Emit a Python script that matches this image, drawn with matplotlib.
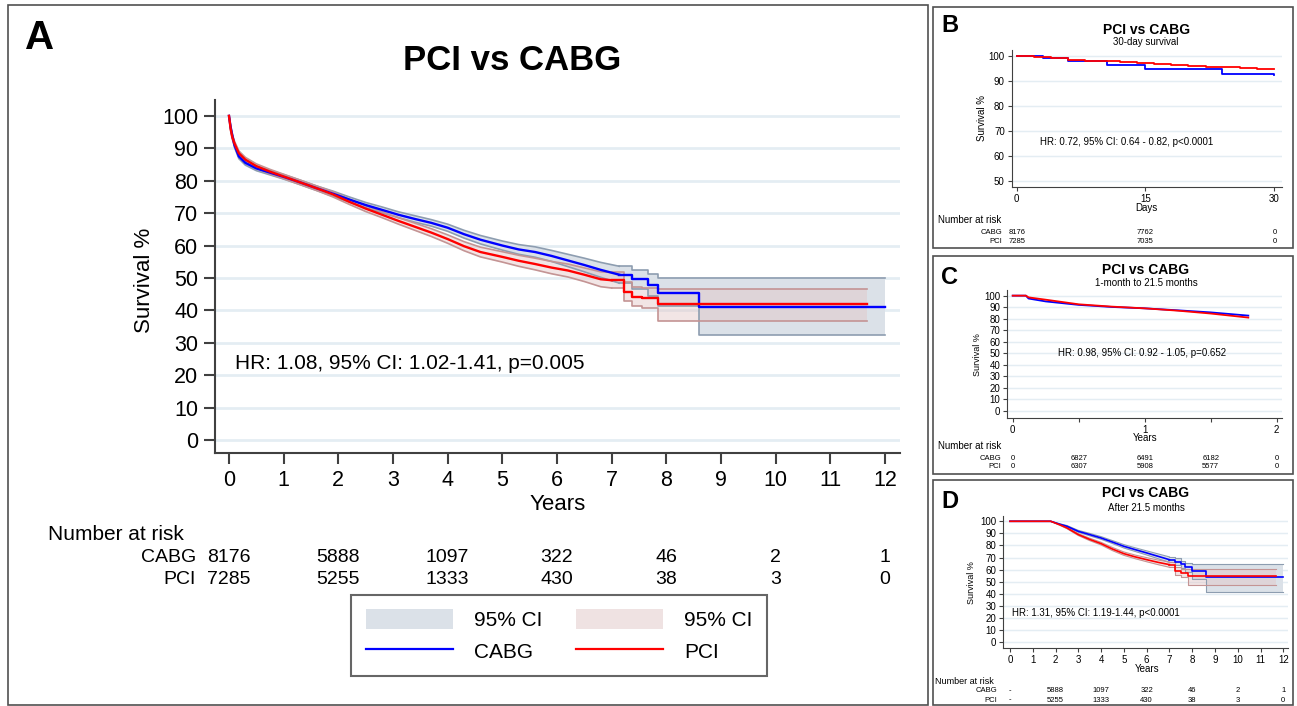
import matplotlib
matplotlib.use('Agg')
import matplotlib.pyplot as plt
from matplotlib.patches import Rectangle, Patch
from matplotlib.lines import Line2D
from matplotlib.transforms import blended_transform_factory

plt.rcParams['font.family'] = ['Liberation Sans', 'DejaVu Sans']

# ---- panel A: whole follow-up ----
a_cabg_t = [0, 0.03, 0.06, 0.1, 0.18, 0.3, 0.5, 0.75, 1.0, 1.3, 1.6, 1.9, 2.2, 2.5, 2.8, 3.1, 3.4, 3.7,
            4.0, 4.3, 4.6, 5.0, 5.3, 5.6, 5.9, 6.2, 6.5, 6.8, 7.14, 7.38, 7.66, 7.84, 8.59, 12.0]
a_cabg_s = [100, 96.5, 94, 91, 87.5, 85.5, 83.8, 82.5, 81.2, 79.5, 77.7, 76, 74.2, 72.5, 71, 69.5, 68.2, 67,
            65.5, 63.5, 61.8, 60, 58.8, 58, 56.8, 55.4, 54, 52.5, 51, 49.6, 47.8, 45.4, 41.1, 41.1]
a_cabg_hi = [100, 97.0, 94.6, 91.7, 88.2, 86.2, 84.5, 83.2, 81.9, 80.2, 78.4, 76.8, 75.0, 73.3, 71.9, 70.4, 69.2, 68.0,
             66.6, 64.7, 63.1, 61.4, 60.3, 59.6, 58.5, 57.3, 56.1, 54.8, 53.6, 52.5, 51.2, 50.0, 50.0, 50.0]
a_cabg_lo = [100, 96.0, 93.4, 90.3, 86.8, 84.8, 83.1, 81.8, 80.5, 78.8, 77.0, 75.2, 73.4, 71.7, 70.1, 68.6, 67.2, 66.0,
             64.4, 62.3, 60.5, 58.6, 57.3, 56.4, 55.1, 53.5, 51.9, 50.2, 48.4, 46.7, 44.4, 41.5, 32.4, 32.4]

a_pci_t = [0, 0.03, 0.06, 0.1, 0.18, 0.3, 0.5, 0.75, 1.0, 1.3, 1.6, 1.9, 2.2, 2.5, 2.8, 3.1, 3.4, 3.7,
           4.0, 4.3, 4.6, 5.0, 5.3, 5.6, 5.9, 6.2, 6.5, 6.8, 7.0, 7.23, 7.38, 7.56, 7.84, 11.68]
a_pci_s = [100, 96, 93.5, 91.5, 88.5, 86.5, 84.5, 82.8, 81.3, 79.5, 77.7, 75.8, 73.5, 71.4, 69.5, 67.6, 65.8, 64,
           62, 59.8, 58, 56.5, 55.3, 54.3, 53.2, 52.3, 51, 49.6, 49.3, 45.8, 44.2, 43.8, 42, 42]
a_pci_hi = [100, 96.6, 94.2, 92.2, 89.2, 87.2, 85.2, 83.5, 82.0, 80.2, 78.4, 76.6, 74.3, 72.3, 70.4, 68.6, 66.9, 65.2,
            63.3, 61.2, 59.5, 58.1, 57.0, 56.1, 55.1, 54.3, 53.1, 51.9, 51.7, 48.6, 47.2, 47.0, 46.6, 46.6]
a_pci_lo = [100, 95.4, 92.8, 90.8, 87.8, 85.8, 83.8, 82.1, 80.6, 78.8, 77.0, 75.0, 72.7, 70.5, 68.6, 66.6, 64.7, 62.8,
            60.7, 58.4, 56.5, 54.9, 53.6, 52.5, 51.3, 50.3, 48.9, 47.3, 46.9, 43.0, 41.2, 40.6, 36.8, 36.8]

a_risk_x = [0, 2, 4, 6, 8, 10, 12]
a_risk_cabg = ['8176', '5888', '1097', '322', '46', '2', '1']
a_risk_pci = ['7285', '5255', '1333', '430', '38', '3', '0']

# ---- panel B: 30 days ----
b_cabg_t = [0, 3.1, 6.0, 10.5, 15.0, 23.9, 30]
b_cabg_s = [100, 99.2, 97.8, 96.2, 94.8, 92.5, 92.3]
b_pci_t = [0, 2, 4, 6, 8, 10, 12, 14, 16, 18, 20, 22, 24, 26, 28, 30]
b_pci_s = [100, 99.3, 98.9, 98.4, 98.0, 97.7, 97.4, 97.0, 96.6, 96.2, 95.9, 95.6, 95.3, 95.0, 94.5, 94.5]
b_risk_x = [0, 15, 30]
b_risk_cabg = ['8176', '7762', '0']
b_risk_pci = ['7285', '7035', '0']

# ---- panel C: 1 month to 21.5 months ----
c_cabg_t = [0, 0.1, 0.12, 0.25, 0.5, 0.75, 1.0, 1.25, 1.5, 1.785]
c_cabg_s = [100, 100, 97.5, 95, 92, 90.2, 89, 87.3, 85.5, 82.7]
c_pci_t = [0, 0.1, 0.12, 0.25, 0.5, 0.75, 1.0, 1.25, 1.5, 1.785]
c_pci_s = [100, 100, 98.5, 96.5, 92.5, 90.5, 89, 87, 84.5, 81]
c_risk_x = [0, 0.5, 1.0, 1.5, 2.0]
c_risk_cabg = ['0', '6827', '6491', '6182', '0']
c_risk_pci = ['0', '6307', '5908', '5577', '0']

# ---- panel D: after 21.5 months ----
d_cabg_t = [0, 1.79, 2.2, 2.5, 3, 3.5, 4, 4.5, 5, 5.5, 6, 6.5, 7, 7.25, 7.5, 7.7, 8.0, 8.59, 12.0]
d_cabg_s = [100, 100, 97.5, 95.9, 91.7, 89, 86.2, 82.8, 79.3, 76.5, 73.8, 71, 68.2, 66.5, 64.6, 61.9, 58.6, 53.6, 53.6]
d_cabg_hi = [100, 100, 97.9, 96.5, 92.5, 90, 87.3, 84, 80.7, 78, 75.5, 73, 70.5, 69.2, 67.5, 65.5, 64.6, 64.6, 64.6]
d_cabg_lo = [100, 100, 97.1, 95.3, 90.9, 88, 85.1, 81.6, 77.9, 75, 72.1, 69, 65.9, 63.8, 61.7, 58.3, 52.6, 41.2, 41.2]
d_pci_t = [0, 1.79, 2.2, 2.5, 3, 3.5, 4, 4.5, 5, 5.5, 6, 6.5, 7, 7.25, 7.5, 7.8, 11.68]
d_pci_s = [100, 100, 97, 94.5, 89, 85, 81.5, 77, 73.2, 70.5, 68.2, 66, 64.1, 59.1, 57.2, 54.4, 54.4]
d_pci_hi = [100, 100, 97.4, 95.1, 89.8, 86, 82.6, 78.3, 74.6, 72, 69.9, 67.9, 66.3, 62.3, 60.8, 60.8, 60.8]
d_pci_lo = [100, 100, 96.6, 93.9, 88.2, 84, 80.4, 75.7, 71.8, 69, 66.5, 64.1, 61.9, 55.9, 53.6, 47.5, 47.5]
d_risk_x = [0, 2, 4, 6, 8, 10, 12]
d_risk_cabg = ['-', '5888', '1097', '322', '46', '2', '1']
d_risk_pci = ['-', '5255', '1333', '430', '38', '3', '0']

BLUE = '#0000ff'
RED = '#ff0000'
CI_B = '#dbe1e8'
CI_B_EDGE = '#8d9db0'
CI_R = '#e3c6c6'
CI_R_EDGE = '#c49494'
GRID = '#e4edf3'
AX = '#404040'

W, H = 1297, 706
fig = plt.figure(figsize=(W / 100, H / 100), dpi=100)


def box(x0, y0, x1, y1):
    # pixel box (top-left origin) -> figure fraction
    return [x0 / W, 1 - y1 / H, (x1 - x0) / W, (y1 - y0) / H]


def fx(x):
    return x / W


def fy(y):
    return 1 - y / H


def style(ax, fs, ticklen, lw, pad=2):
    for s in ['top', 'right']:
        ax.spines[s].set_visible(False)
    for s in ['left', 'bottom']:
        ax.spines[s].set_color(AX)
        ax.spines[s].set_linewidth(lw)
    ax.tick_params(which='both', direction='out', length=ticklen, width=lw, color=AX,
                   labelsize=fs, pad=pad)
    ax.grid(axis='y', color=GRID, lw=lw * 1.3)
    ax.set_axisbelow(True)


def cut(t, split):
    # index where the dense (smooth-looking) part ends and the sparse steps begin
    for i, v in enumerate(t):
        if v >= split:
            return i
    return len(t) - 1


def curve(ax, t, s, split, **kw):
    i = cut(t, split)
    ax.plot(t[:i + 1], s[:i + 1], **kw)
    ax.step(t[i:], s[i:], where='post', **kw)


def band(ax, t, lo, hi, split, fc, ec, alpha, lw):
    i = cut(t, split)
    ax.fill_between(t[:i + 1], lo[:i + 1], hi[:i + 1], color=fc, alpha=alpha, lw=0)
    ax.fill_between(t[i:], lo[i:], hi[i:], step='post', color=fc, alpha=alpha, lw=0)
    curve(ax, t, lo, split, color=ec, lw=lw)
    curve(ax, t, hi, split, color=ec, lw=lw)


def risk_table(ax, xs, cabg, pci, hdr_xy, lab_x, ys, fs_hdr, fs):
    tr = blended_transform_factory(ax.transData, fig.transFigure)
    fig.text(fx(hdr_xy[0]), fy(hdr_xy[1]), 'Number at risk', fontsize=fs_hdr, va='center')
    for name, vals, y in [('CABG', cabg, ys[0]), ('PCI', pci, ys[1])]:
        fig.text(fx(lab_x), fy(y), name, ha='right', va='center', fontsize=fs)
        for x, v in zip(xs, vals):
            ax.text(x, fy(y), v, transform=tr, ha='center', va='center', fontsize=fs, clip_on=False)


# panel frames
for (x0, y0, x1, y1) in [(8, 5, 928, 705), (933, 7, 1293, 248), (933, 256, 1293, 474), (933, 480, 1293, 705)]:
    fig.add_artist(Rectangle((fx(x0), fy(y1)), (x1 - x0) / W, (y1 - y0) / H, transform=fig.transFigure,
                             fill=False, ec='#505050', lw=1.2))

# ================= Panel A =================
axA = fig.add_axes(box(215, 100, 900, 453))
style(axA, 15.5, 8, 1.5, pad=4)
band(axA, a_cabg_t, a_cabg_lo, a_cabg_hi, 7.14, CI_B, CI_B_EDGE, 1.0, 1.2)
band(axA, a_pci_t, a_pci_lo, a_pci_hi, 7.0, CI_R, CI_R_EDGE, 0.45, 1.2)
curve(axA, a_cabg_t, a_cabg_s, 7.14, color=BLUE, lw=1.7)
curve(axA, a_pci_t, a_pci_s, 7.0, color=RED, lw=1.7)
axA.set_xlim(-0.256, 12.275)
axA.set_ylim(-4.0, 104.9)
axA.set_xticks(range(0, 13))
axA.set_yticks(range(0, 101, 10))
axA.text(0.11, 23.5, 'HR: 1.08, 95% CI: 1.02-1.41, p=0.005', fontsize=15, va='center')
fig.text(fx(512), fy(60), 'PCI vs CABG', fontsize=25, fontweight='bold', ha='center', va='center')
fig.text(fx(40), fy(38), 'A', fontsize=29, fontweight='bold', ha='center', va='center')
fig.text(fx(145), fy(280), 'Survival %', fontsize=16, rotation=90, ha='center', va='center')
fig.text(fx(558), fy(505), 'Years', fontsize=16, ha='center', va='center')
risk_table(axA, a_risk_x, a_risk_cabg, a_risk_pci, (48, 535), 196, (558, 580), 15, 14)

handles = [Patch(fc=CI_B, ec='none'), Line2D([], [], color=BLUE, lw=1.6),
           Patch(fc='#efe2e2', ec='none'), Line2D([], [], color=RED, lw=1.6)]
labels = ['95% CI', 'CABG', '95% CI', 'PCI']
leg = fig.legend(handles, labels, ncol=2, loc='center', bbox_to_anchor=(fx(559), fy(635.5)),
                 fontsize=15, frameon=True, fancybox=False, edgecolor=AX, handlelength=4.2,
                 handleheight=1.1, columnspacing=1.6, handletextpad=1.0, borderpad=0.7, labelspacing=0.5)
leg.get_frame().set_linewidth(1.5)

# ================= Panel B =================
axB = fig.add_axes(box(1011.7, 50, 1281.7, 186.7))
style(axB, 7, 3, 0.8)
axB.step(b_cabg_t, b_cabg_s, where='post', color=BLUE, lw=1.3)
axB.step(b_pci_t, b_pci_s, where='post', color=RED, lw=1.3)
axB.set_xlim(-0.58, 30.86)
axB.set_ylim(47.6, 102.3)
axB.set_xticks([0, 15, 30])
axB.set_yticks(range(50, 101, 10))
axB.text(2.7, 65.5, 'HR: 0.72, 95% CI: 0.64 - 0.82, p<0.0001', fontsize=7, va='center')
fig.text(fx(1147), fy(30), 'PCI vs CABG', fontsize=10, fontweight='bold', ha='center', va='center')
fig.text(fx(1146), fy(42), '30-day survival', fontsize=7, ha='center', va='center')
fig.text(fx(950), fy(25), 'B', fontsize=17, fontweight='bold', ha='center', va='center')
fig.text(fx(982), fy(118), 'Survival %', fontsize=7, rotation=90, ha='center', va='center')
fig.text(fx(1146), fy(208), 'Days', fontsize=7, ha='center', va='center')
risk_table(axB, b_risk_x, b_risk_cabg, b_risk_pci, (938, 220), 1002, (232, 242), 7, 5.5)

# ================= Panel C =================
axC = fig.add_axes(box(1007.3, 290, 1281.7, 417.7))
style(axC, 7, 3, 0.8)
curve(axC, c_cabg_t, c_cabg_s, 99, color=BLUE, lw=1.3)
curve(axC, c_pci_t, c_pci_s, 99, color=RED, lw=1.3)
axC.set_xlim(-0.041, 2.038)
axC.set_ylim(-5.8, 104.9)
axC.set_xticks([0, 1, 2])
axC.set_xticks([0.5, 1.5], minor=True)
axC.set_yticks(range(0, 101, 10))
axC.text(0.343, 50, 'HR: 0.98, 95% CI: 0.92 - 1.05, p=0.652', fontsize=7, va='center')
fig.text(fx(1146), fy(270), 'PCI vs CABG', fontsize=10, fontweight='bold', ha='center', va='center')
fig.text(fx(1146), fy(283), '1-month to 21.5 months', fontsize=7, ha='center', va='center')
fig.text(fx(949), fy(277), 'C', fontsize=17, fontweight='bold', ha='center', va='center')
fig.text(fx(977), fy(355), 'Survival %', fontsize=6.5, rotation=90, ha='center', va='center')
fig.text(fx(1145), fy(437.7), 'Years', fontsize=7, ha='center', va='center')
risk_table(axC, c_risk_x, c_risk_cabg, c_risk_pci, (938, 446), 1001, (458, 466), 7, 5.5)

# ================= Panel D =================
axD = fig.add_axes(box(1003.3, 516, 1288, 648))
style(axD, 7, 3, 0.8)
band(axD, d_cabg_t, d_cabg_lo, d_cabg_hi, 7.0, CI_B, CI_B_EDGE, 1.0, 0.8)
band(axD, d_pci_t, d_pci_lo, d_pci_hi, 7.0, CI_R, CI_R_EDGE, 0.45, 0.8)
curve(axD, d_cabg_t, d_cabg_s, 7.0, color=BLUE, lw=1.2)
curve(axD, d_pci_t, d_pci_s, 7.0, color=RED, lw=1.2)
axD.set_xlim(-0.294, 12.206)
axD.set_ylim(-5, 104.4)
axD.set_xticks(range(0, 13))
axD.set_yticks(range(0, 101, 10))
axD.text(0.07, 24, 'HR: 1.31, 95% CI: 1.19-1.44, p<0.0001', fontsize=7, va='center')
fig.text(fx(1146), fy(493), 'PCI vs CABG', fontsize=10, fontweight='bold', ha='center', va='center')
fig.text(fx(1146), fy(508), 'After 21.5 months', fontsize=7, ha='center', va='center')
fig.text(fx(950), fy(501), 'D', fontsize=17, fontweight='bold', ha='center', va='center')
fig.text(fx(972), fy(583), 'Survival %', fontsize=6.5, rotation=90, ha='center', va='center')
fig.text(fx(1147), fy(669), 'Years', fontsize=7, ha='center', va='center')
risk_table(axD, d_risk_x, d_risk_cabg, d_risk_pci, (935, 681), 997, (691, 700), 6.5, 5.5)

fig.savefig('out.png', dpi=100, facecolor='white')
